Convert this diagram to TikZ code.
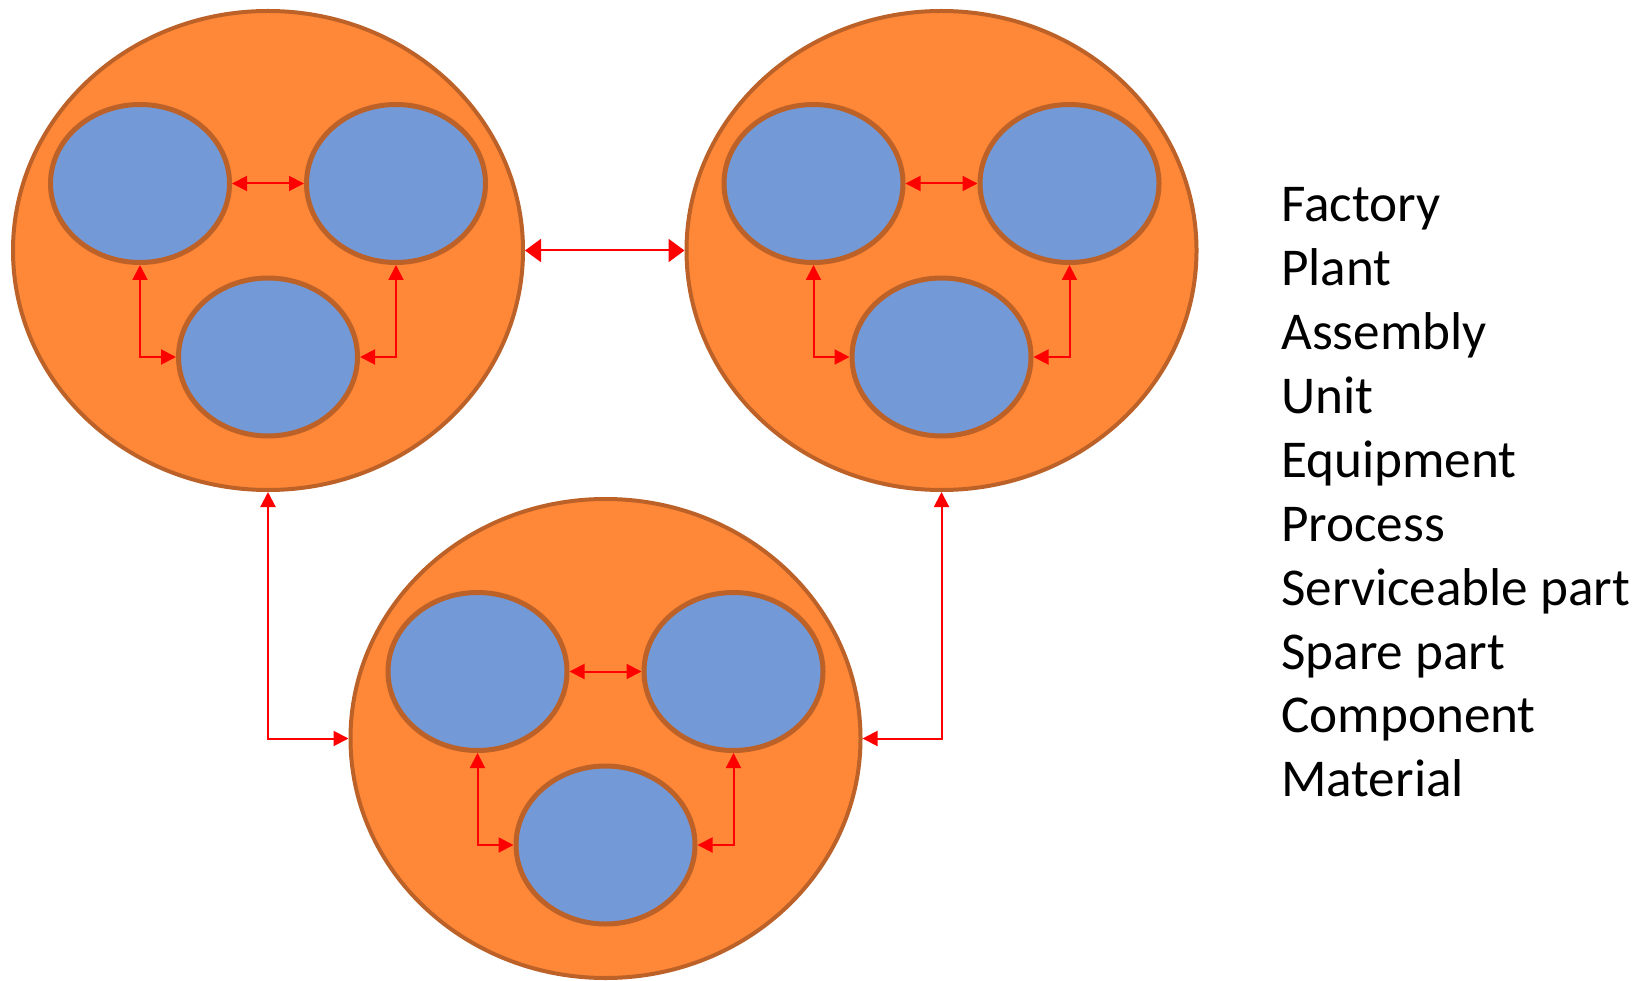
\documentclass[tikz,border=0pt]{standalone}
\usepackage{fontspec}
\setmainfont{Carlito}
\usetikzlibrary{shapes.geometric,arrows.meta}
\definecolor{orfill}{HTML}{FF8838}
\definecolor{brborder}{HTML}{BC6128}
\definecolor{blfill}{HTML}{7399D7}
\definecolor{arrred}{HTML}{FF0000}
\tikzset{
  bigcirc/.style={ellipse, draw=brborder, fill=orfill, line width=4pt,
    minimum width=510pt, minimum height=479pt, inner sep=0pt},
  smallcirc/.style={ellipse, draw=brborder, fill=blfill, line width=5pt,
    minimum width=179pt, minimum height=158pt, inner sep=0pt},
  link/.style={draw=arrred, line width=2pt,
    {Triangle[length=15pt,width=15pt]}-{Triangle[length=15pt,width=15pt]}},
  biglink/.style={draw=arrred, line width=2pt,
    {Triangle[length=16pt,width=23pt]}-{Triangle[length=16pt,width=23pt]}},
  label/.style={anchor=base west, inner sep=0pt, font=\fontsize{53.2}{62}\selectfont}
}
\begin{document}
\begin{tikzpicture}[x=1pt,y=-1pt]
\useasboundingbox (0,0) rectangle (1640,981);
% big circles
\node[bigcirc] (A) at (268,250.5) {};
\node[bigcirc] (B) at (941.5,250.5) {};
\node[bigcirc] (C) at (605.5,738.5) {};
% small ellipses in A
\node[smallcirc] (A1) at (140,183.5) {};
\node[smallcirc] (A2) at (396,183.5) {};
\node[smallcirc] (A3) at (268,357) {};
% small ellipses in B
\node[smallcirc] (B1) at (813.5,183.5) {};
\node[smallcirc] (B2) at (1069.5,183.5) {};
\node[smallcirc] (B3) at (941.5,357) {};
% small ellipses in C
\node[smallcirc] (C1) at (477.5,671.5) {};
\node[smallcirc] (C2) at (733.5,671.5) {};
\node[smallcirc] (C3) at (605.5,845) {};
% inner links
\foreach \g in {A,B,C}{
  \draw[link] (\g1.east) -- (\g2.west);
  \draw[link] (\g1.south) |- (\g3.west);
  \draw[link] (\g2.south) |- (\g3.east);
}
% outer links
\draw[biglink] (A.east) -- (B.west);
\draw[link] (A.south) |- (C.west);
\draw[link] (B.south) |- (C.east);
% labels
\foreach \t [count=\i from 0] in {Factory,Plant,Assembly,Unit,Equipment,Process,Serviceable part,Spare part,Component,Material}{
  \node[label] (L\i) at (1281,221.7+63.9*\i) {\t};
}
\end{tikzpicture}
\end{document}
